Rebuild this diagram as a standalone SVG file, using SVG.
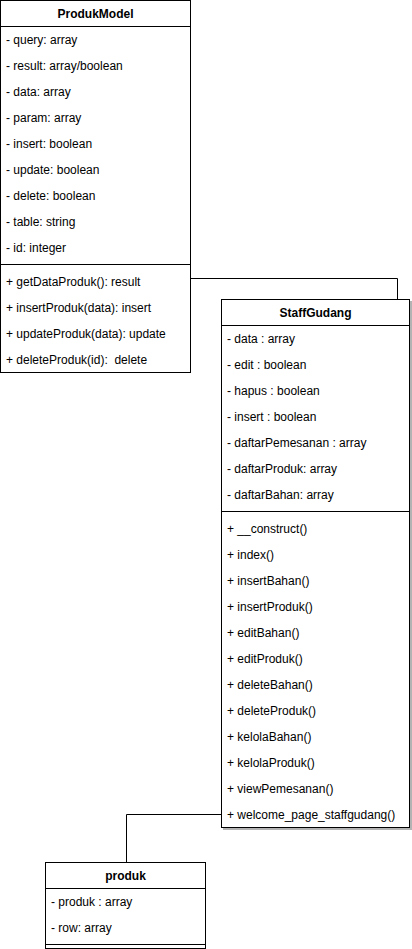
<svg xmlns="http://www.w3.org/2000/svg" width="412" height="949" viewBox="0 0 412 949">
  <style>
    .box { fill: #ffffff; stroke: #000000; stroke-width: 1; }
    .sep { stroke: #000000; stroke-width: 1; }
    .title { font-family: "Liberation Sans", Arial, sans-serif; font-size: 12px; font-weight: bold; fill: #000000; text-anchor: middle; }
    .item { font-family: "Liberation Sans", Arial, sans-serif; font-size: 12px; fill: #000000; }
    .edge { fill: none; stroke: #000000; stroke-width: 1; }
  </style>
  <defs>
    <filter id="shadow" x="-10%" y="-10%" width="120%" height="120%">
      <feDropShadow dx="2" dy="2" stdDeviation="0.6" flood-color="#808080" flood-opacity="0.6"/>
    </filter>
  </defs>

  <rect width="412" height="949" fill="#ffffff"/>

  <!-- connectors -->
  <g id="connectors">
    <path class="edge" d="M190.5 278.5 H397.5 V299"/>
    <path class="edge" d="M221 814.5 H126.5 V862"/>
  </g>

  <!-- ProdukModel class -->
  <g id="ProdukModel">
    <rect class="box" x="0.5" y="0.5" width="190" height="372"/>
    <line class="sep" x1="0.5" y1="26.5" x2="190.5" y2="26.5"/>
    <text class="title" x="95.5" y="18">ProdukModel</text>
    <text class="item" x="6" y="44">- query: array</text>
    <text class="item" x="6" y="70">- result: array/boolean</text>
    <text class="item" x="6" y="96">- data: array</text>
    <text class="item" x="6" y="122">- param: array</text>
    <text class="item" x="6" y="148">- insert: boolean</text>
    <text class="item" x="6" y="174">- update: boolean</text>
    <text class="item" x="6" y="200">- delete: boolean</text>
    <text class="item" x="6" y="226">- table: string</text>
    <text class="item" x="6" y="252">- id: integer</text>
    <line class="sep" x1="0.5" y1="264.5" x2="190.5" y2="264.5"/>
    <text class="item" x="6" y="286">+ getDataProduk(): result</text>
    <text class="item" x="6" y="312">+ insertProduk(data): insert</text>
    <text class="item" x="6" y="338">+ updateProduk(data): update</text>
    <text class="item" x="6" y="364" xml:space="preserve">+ deleteProduk(id):  delete</text>
  </g>

  <!-- StaffGudang class -->
  <g id="StaffGudang">
    <rect class="box" x="221.5" y="299.5" width="188" height="528" filter="url(#shadow)"/>
    <line class="sep" x1="221.5" y1="325.5" x2="409.5" y2="325.5"/>
    <text class="title" x="315.5" y="317">StaffGudang</text>
    <text class="item" x="227" y="343">- data : array</text>
    <text class="item" x="227" y="369">- edit : boolean</text>
    <text class="item" x="227" y="395">- hapus : boolean</text>
    <text class="item" x="227" y="421">- insert : boolean</text>
    <text class="item" x="227" y="447">- daftarPemesanan : array</text>
    <text class="item" x="227" y="473">- daftarProduk: array</text>
    <text class="item" x="227" y="499">- daftarBahan: array</text>
    <line class="sep" x1="221.5" y1="511.5" x2="409.5" y2="511.5"/>
    <text class="item" x="227" y="533">+ __construct()</text>
    <text class="item" x="227" y="559">+ index()</text>
    <text class="item" x="227" y="585">+ insertBahan()</text>
    <text class="item" x="227" y="611">+ insertProduk()</text>
    <text class="item" x="227" y="637">+ editBahan()</text>
    <text class="item" x="227" y="663">+ editProduk()</text>
    <text class="item" x="227" y="689">+ deleteBahan()</text>
    <text class="item" x="227" y="715">+ deleteProduk()</text>
    <text class="item" x="227" y="741">+ kelolaBahan()</text>
    <text class="item" x="227" y="767">+ kelolaProduk()</text>
    <text class="item" x="227" y="793">+ viewPemesanan()</text>
    <text class="item" x="227" y="819">+ welcome_page_staffgudang()</text>
  </g>

  <!-- produk class -->
  <g id="produk">
    <rect class="box" x="45.5" y="862.5" width="160" height="86"/>
    <line class="sep" x1="45.5" y1="888.5" x2="205.5" y2="888.5"/>
    <text class="title" x="125.5" y="880">produk</text>
    <text class="item" x="51" y="906">- produk : array</text>
    <text class="item" x="51" y="932">- row: array</text>
    <line class="sep" x1="45.5" y1="944.5" x2="205.5" y2="944.5"/>
  </g>
</svg>
